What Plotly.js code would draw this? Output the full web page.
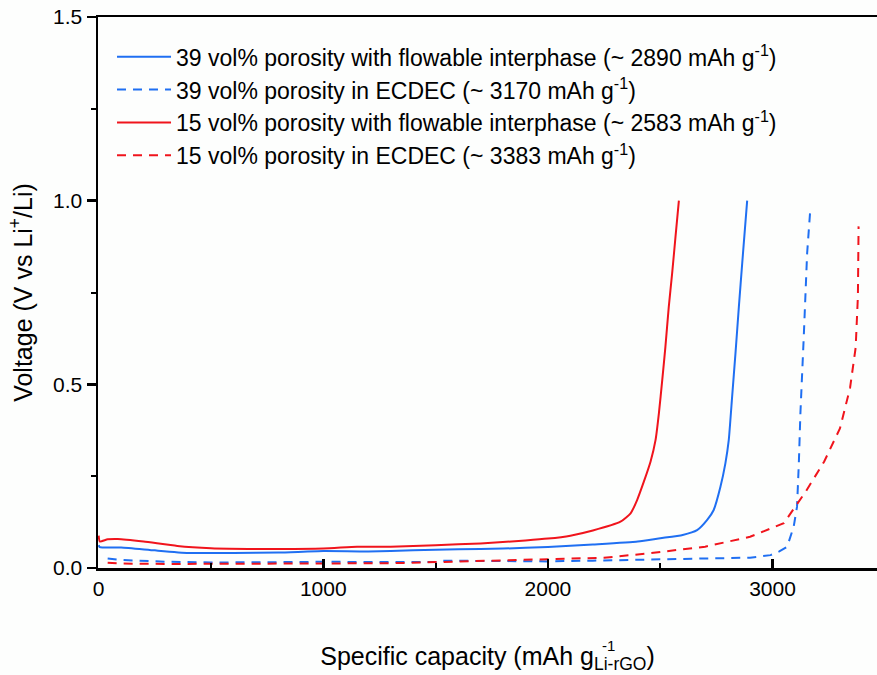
<!DOCTYPE html>
<html>
<head>
<meta charset="utf-8">
<script src="https://cdn.plot.ly/plotly-3.0.1.min.js"></script>
<style>html,body{margin:0;padding:0;background:#fff;}#chart{width:877px;height:675px;}</style>
</head>
<body>
<div id="chart"></div>
<script>
// 39 vol% porosity with flowable interphase
const blueSolidX = [0, 5, 100, 250, 400, 600, 800, 1000, 1200, 1400, 1600, 1800, 2000, 2200, 2400, 2500, 2600, 2664, 2709, 2738, 2768, 2790, 2805, 2820, 2835, 2850, 2865, 2887];
const blueSolidY = [0.062, 0.057, 0.056, 0.048, 0.041, 0.041, 0.042, 0.046, 0.045, 0.048, 0.051, 0.053, 0.057, 0.064, 0.072, 0.081, 0.090, 0.103, 0.131, 0.158, 0.221, 0.285, 0.348, 0.466, 0.585, 0.711, 0.83, 1.0];
// 39 vol% porosity in ECDEC
const blueDashX = [40, 100, 300, 500, 800, 1000, 1300, 1500, 1520, 1800, 2000, 2200, 2450, 2700, 2900, 2991, 3030, 3065, 3094, 3109, 3117, 3124, 3139, 3154, 3169];
const blueDashY = [0.026, 0.022, 0.017, 0.015, 0.016, 0.017, 0.016, 0.016, 0.020, 0.019, 0.018, 0.020, 0.024, 0.026, 0.028, 0.035, 0.045, 0.058, 0.112, 0.167, 0.285, 0.421, 0.63, 0.857, 0.984];
// 15 vol% porosity with flowable interphase
const redSolidX = [0, 5, 40, 85, 200, 350, 500, 700, 1000, 1150, 1300, 1500, 1700, 1900, 2000, 2100, 2200, 2323, 2368, 2397, 2427, 2457, 2479, 2494, 2509, 2523, 2538, 2553, 2568, 2583];
const redSolidY = [0.088, 0.072, 0.078, 0.079, 0.072, 0.060, 0.054, 0.052, 0.053, 0.058, 0.058, 0.062, 0.067, 0.075, 0.080, 0.088, 0.102, 0.126, 0.149, 0.185, 0.235, 0.29, 0.348, 0.421, 0.512, 0.602, 0.711, 0.802, 0.902, 1.0];
// 15 vol% porosity in ECDEC
const redDashX = [40, 100, 300, 600, 1000, 1300, 1500, 1700, 2000, 2250, 2450, 2700, 2900, 3050, 3150, 3230, 3300, 3345, 3370, 3380, 3383];
const redDashY = [0.014, 0.012, 0.011, 0.011, 0.012, 0.013, 0.016, 0.020, 0.024, 0.028, 0.040, 0.058, 0.085, 0.122, 0.21, 0.29, 0.38, 0.49, 0.60, 0.74, 0.93];

const seriesNames = [
  '39 vol% porosity with flowable interphase (~ 2890 mAh g<sup>-1</sup>)',
  '39 vol% porosity in ECDEC (~ 3170 mAh g<sup>-1</sup>)',
  '15 vol% porosity with flowable interphase (~ 2583 mAh g<sup>-1</sup>)',
  '15 vol% porosity in ECDEC (~ 3383 mAh g<sup>-1</sup>)'
];
const yTickVals = [0, 0.5, 1.0, 1.5];
const yTickText = ['0.0', '0.5', '1.0', '1.5'];
const xTickVals = [0, 1000, 2000, 3000];

const BLUE = '#1f6ff2';
const RED = '#f0141c';
const FONT = 'Liberation Sans, Arial, sans-serif';

const traces = [
  {x: blueSolidX, y: blueSolidY, name: seriesNames[0], mode: 'lines', line: {color: BLUE, width: 2, shape: 'spline', smoothing: 0.5}},
  {x: blueDashX, y: blueDashY, name: seriesNames[1], mode: 'lines', line: {color: BLUE, width: 2, dash: '9px,7px'}},
  {x: redSolidX, y: redSolidY, name: seriesNames[2], mode: 'lines', line: {color: RED, width: 2, shape: 'spline', smoothing: 0.5}},
  {x: redDashX, y: redDashY, name: seriesNames[3], mode: 'lines', line: {color: RED, width: 2, dash: '9px,7px'}}
];

const layout = {
  width: 877, height: 675,
  margin: {l: 98, r: 0, t: 17, b: 107, pad: 0},
  paper_bgcolor: '#fdfefd', plot_bgcolor: '#fdfefd',
  font: {family: FONT, color: '#000', size: 21},
  showlegend: true,
  legend: {x: 0.018, y: 0.967, xanchor: 'left', yanchor: 'top', bgcolor: 'rgba(0,0,0,0)',
           font: {family: FONT, size: 23, color: '#000'}, itemwidth: 54, tracegroupgap: 0},
  xaxis: {
    range: [-3, 3465], showgrid: false, zeroline: false,
    showline: true, linecolor: '#000', linewidth: 2.5, mirror: true,
    ticks: 'inside', ticklen: 9, tickwidth: 2.5, tickcolor: '#000',
    tickvals: xTickVals, ticktext: xTickVals.map(String),
    minor: {ticks: 'inside', ticklen: 5, tickwidth: 2, tickcolor: '#000', dtick: 500, tick0: 0},
    tickfont: {size: 21, family: FONT},
    title: {text: 'Specific capacity (mAh g<sub>Li-rGO</sub>)', font: {size: 25, family: FONT}, standoff: 49}
  },
  yaxis: {
    range: [0, 1.5], showgrid: false, zeroline: false,
    showline: true, linecolor: '#000', linewidth: 2.5, mirror: false,
    ticks: 'outside', ticklen: 9, tickwidth: 2.5, tickcolor: '#000',
    tickvals: yTickVals, ticktext: yTickText,
    minor: {ticks: 'outside', ticklen: 5, tickwidth: 2, tickcolor: '#000', dtick: 0.25, tick0: 0},
    tickfont: {size: 21, family: FONT},
    title: {text: 'Voltage (V vs Li<sup>+</sup>/Li)', font: {size: 25, family: FONT}, standoff: 14}
  },
  annotations: [
    {xref: 'paper', yref: 'paper', x: 0.645, y: -0.14, xanchor: 'left', yanchor: 'middle', showarrow: false,
     text: '-1', font: {size: 15, family: FONT, color: '#000'}}
  ]
};

Plotly.newPlot('chart', traces, layout, {displayModeBar: false, staticPlot: true});
</script>
</body>
</html>
